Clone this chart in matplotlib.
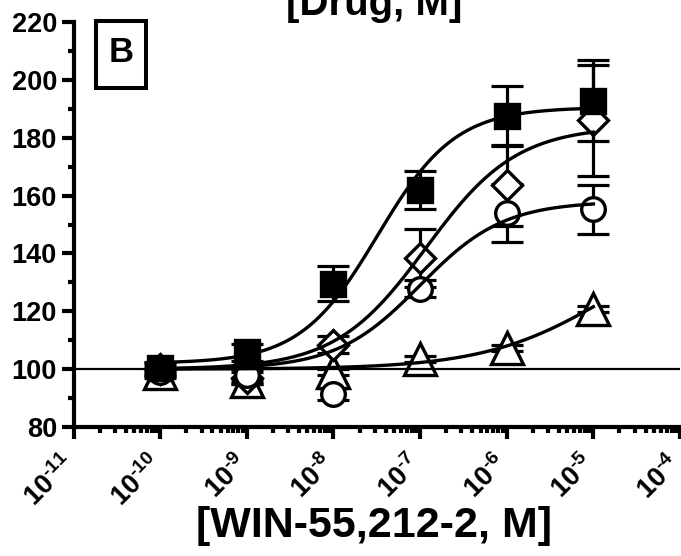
import numpy as np
import matplotlib
matplotlib.use("Agg")
import matplotlib.pyplot as plt
from matplotlib.patches import Rectangle
from matplotlib.ticker import LogLocator, MultipleLocator, NullFormatter
from matplotlib.transforms import ScaledTranslation

plt.rcParams['font.family'] = ['Liberation Sans', 'DejaVu Sans']
plt.rcParams['font.weight'] = 'bold'
plt.rcParams['mathtext.fontset'] = 'custom'
plt.rcParams['mathtext.rm'] = 'Liberation Sans:bold'
plt.rcParams['mathtext.bf'] = 'Liberation Sans:bold'
plt.rcParams['mathtext.it'] = 'Liberation Sans:bold'

# ---- data ----
conc = [1e-10, 1e-9, 1e-8, 1e-7, 1e-6, 1e-5]

sq_mean = [100.5, 105.8, 129.6, 162.0, 187.5, 192.8]
sq_err = [2.0, 3.0, 6.2, 6.5, 10.5, 13.9]

dia_mean = [100.0, 97.0, 108.5, 138.5, 163.5, 186.0]
dia_err = [2.0, 2.0, 3.0, 10.0, 14.0, 19.2]

cir_mean = [99.0, 98.0, 91.5, 127.8, 154.0, 155.3]
cir_err = [2.0, 2.0, 2.0, 3.0, 10.0, 8.5]

tri_mean = [98.5, 96.0, 99.0, 103.5, 107.3, 120.8]
tri_err = [1.0, 1.0, 1.0, 1.0, 1.0, 1.0]

# fitted 4-parameter logistic curves: bottom, top, logEC50, hill
sq_fit = [102.0, 190.5, -7.49, 0.97]
dia_fit = [100.0, 184.0, -6.93, 0.83]
cir_fit = [100.0, 158.0, -7.00, 0.90]
tri_fit = [100.0, 150.0, -4.80, 0.60]

xtick_vals = [1e-11, 1e-10, 1e-9, 1e-8, 1e-7, 1e-6, 1e-5, 1e-4]
xtick_exps = ['11', '10', '9', '8', '7', '6', '5', '4']
xtick_labels = [r'$\mathbf{10^{\text{-}' + e + r'}}$' for e in xtick_exps]
ytick_vals = [80, 100, 120, 140, 160, 180, 200, 220]


def logistic(x, p):
    b, t, c, h = p
    return b + (t - b) / (1.0 + 10 ** (h * (c - np.log10(x))))


fig = plt.figure(figsize=(6.81, 5.56), dpi=100)
ax = fig.add_axes([0.108, 0.232, 0.8905, 0.7284])

ax.set_xscale('log')
ax.set_xlim(1e-11, 1e-4)
ax.set_ylim(80, 220)

series = [
    (tri_mean, tri_err, '^', 'white', 22.5, tri_fit),
    (dia_mean, dia_err, 'D', 'white', 15, dia_fit),
    (cir_mean, cir_err, 'o', 'white', 17, cir_fit),
    (sq_mean, sq_err, 's', 'black', 17.5, sq_fit),
]

for mean, err, mk, fc, ms, fit in series:
    ax.errorbar(conc, mean, yerr=err, fmt='none', ecolor='black',
                elinewidth=2.3, capsize=11.5, capthick=2.3, zorder=2)

for mean, err, mk, fc, ms, fit in series:
    ax.plot(conc, mean, linestyle='none', marker=mk, markersize=ms,
            markerfacecolor=fc, markeredgecolor='black', markeredgewidth=2.4,
            zorder=3, clip_on=False)

xs = np.logspace(-10, -5, 300)
for mean, err, mk, fc, ms, fit in series:
    ax.plot(xs, logistic(xs, fit), color='black', linewidth=2.4, zorder=4)

ax.axhline(100, color='black', linewidth=1.6, zorder=5)

# spines
for s in ['top', 'right']:
    ax.spines[s].set_visible(False)
for s in ['left', 'bottom']:
    ax.spines[s].set_linewidth(3.0)

ax.set_yticks(ytick_vals)
ax.set_yticklabels([str(v) for v in ytick_vals], fontsize=19.5, fontweight='bold')
ax.yaxis.set_minor_locator(MultipleLocator(10))

ax.set_xticks(xtick_vals)
ax.set_xticklabels(xtick_labels, fontsize=19.5, rotation=45, ha='right')
ax.xaxis.set_minor_locator(LogLocator(base=10, subs=np.arange(2, 10), numticks=20))
ax.xaxis.set_minor_formatter(NullFormatter())

ax.tick_params(axis='both', which='major', direction='out', length=8.5, width=3.0)
ax.tick_params(axis='both', which='minor', direction='out', length=4.5, width=3.0)
ax.tick_params(axis='y', which='major', pad=3.5)
ax.tick_params(axis='x', which='major', pad=6)

offset = ScaledTranslation(0.07, -0.03, fig.dpi_scale_trans)
for lab in ax.get_xticklabels():
    lab.set_transform(lab.get_transform() + offset)

# x label and cut-off title
fig.text(374 / 681, 1 - 537 / 556, '[WIN-55,212-2, M]', fontsize=31,
         fontweight='bold', ha='center', va='baseline')
fig.text(374 / 681, 1 - 15 / 556, '[Drug, M]', fontsize=29,
         fontweight='bold', ha='center', va='baseline')

# panel letter box
fig.add_artist(Rectangle((96 / 681, 1 - 88 / 556), 50 / 681, 67 / 556,
                         transform=fig.transFigure, fill=False,
                         edgecolor='black', linewidth=2.9))
fig.text(121 / 681, 1 - 53 / 556, 'B', fontsize=25, fontweight='bold',
         ha='center', va='center')

fig.savefig('out.png', dpi=100)
